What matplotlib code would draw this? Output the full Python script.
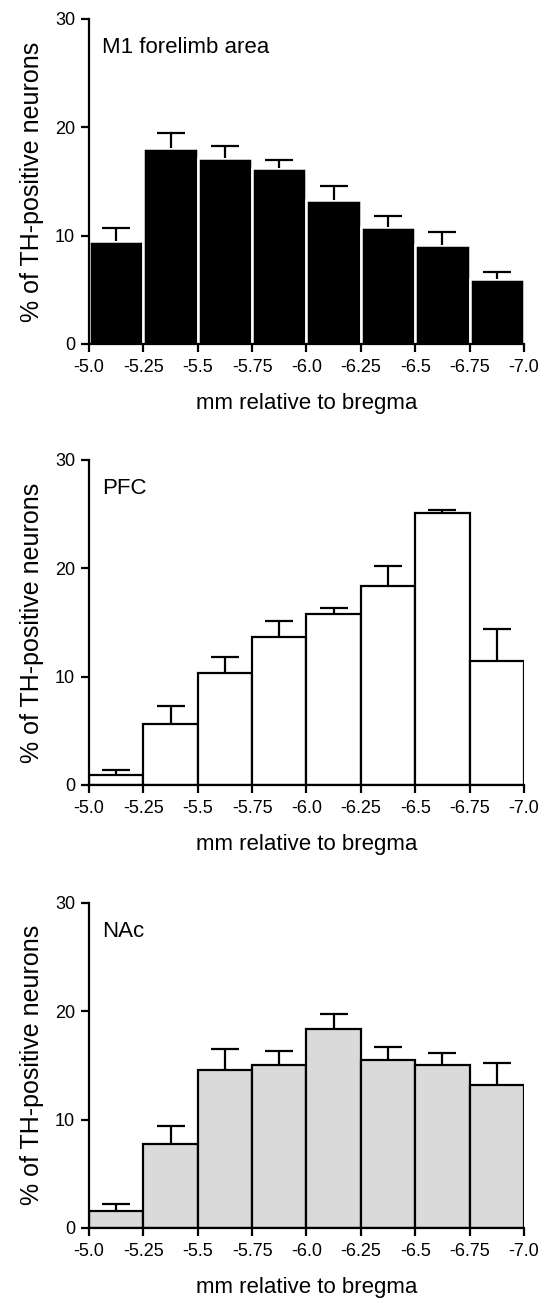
import matplotlib
matplotlib.use("Agg")
import matplotlib.pyplot as plt
import numpy as np

plt.rcParams['font.family'] = ['Liberation Sans', 'DejaVu Sans']

tick_labels = ["-5.0", "-5.25", "-5.5", "-5.75", "-6.0", "-6.25", "-6.5", "-6.75", "-7.0"]

m1_values = [9.5, 18.1, 17.2, 16.2, 13.3, 10.8, 9.1, 6.0]
m1_err = [1.2, 1.4, 1.1, 0.8, 1.3, 1.0, 1.2, 0.6]

pfc_values = [0.9, 5.6, 10.3, 13.7, 15.75, 18.4, 25.1, 11.4]
pfc_err = [0.45, 1.7, 1.5, 1.4, 0.6, 1.8, 0.3, 3.0]

nac_values = [1.57, 7.7, 14.55, 15.05, 18.4, 15.5, 15.05, 13.15]
nac_err = [0.65, 1.75, 1.95, 1.3, 1.35, 1.15, 1.1, 2.05]

panels = [
    ("M1 forelimb area", m1_values, m1_err, "black", "white", 1.8, 3),
    ("PFC", pfc_values, pfc_err, "white", "black", 1.6, 1),
    ("NAc", nac_values, nac_err, "#d9dad9", "black", 1.6, 1),
]

fig = plt.figure(figsize=(5.41, 12.99), dpi=100)
bottoms = [0.7352, 0.3957, 0.0547]
left, width, height = 0.1645, 0.804, 0.2503

for (name, vals, errs, fc, ec, elw, ez), b in zip(panels, bottoms):
    ax = fig.add_axes([left, b, width, height])
    x = np.arange(len(vals)) + 0.5
    eb = ax.errorbar(x, vals, yerr=[np.zeros(len(errs)), errs], fmt='none',
                     ecolor='black', elinewidth=1.6, capsize=10, capthick=1.6, zorder=ez)
    caps = eb[1]
    if len(caps) == 2:
        caps[0].set_visible(False)
    ax.bar(x, vals, width=1.0, color=fc, edgecolor=ec, linewidth=elw, zorder=2)
    ax.set_xlim(0, 8)
    ax.set_ylim(0, 30)
    ax.set_xticks(np.arange(9))
    ax.set_xticklabels(tick_labels, fontsize=13)
    ax.set_yticks([0, 10, 20, 30])
    ax.set_yticklabels(["0", "10", "20", "30"], fontsize=13)
    for s in ['top', 'right']:
        ax.spines[s].set_visible(False)
    for s in ['left', 'bottom']:
        ax.spines[s].set_linewidth(1.6)
        ax.spines[s].set_zorder(4)
    ax.tick_params(axis='both', direction='out', length=6, width=1.6)
    ax.tick_params(axis='x', pad=5)
    ax.tick_params(axis='y', pad=4)
    ax.set_xlabel("mm relative to bregma", fontsize=16, labelpad=12)
    ax.set_ylabel("% of TH-positive neurons", fontsize=18, labelpad=8)
    ax.text(0.03, 0.945, name, transform=ax.transAxes, fontsize=16,
            ha='left', va='top')

fig.savefig("out.png", dpi=100)
